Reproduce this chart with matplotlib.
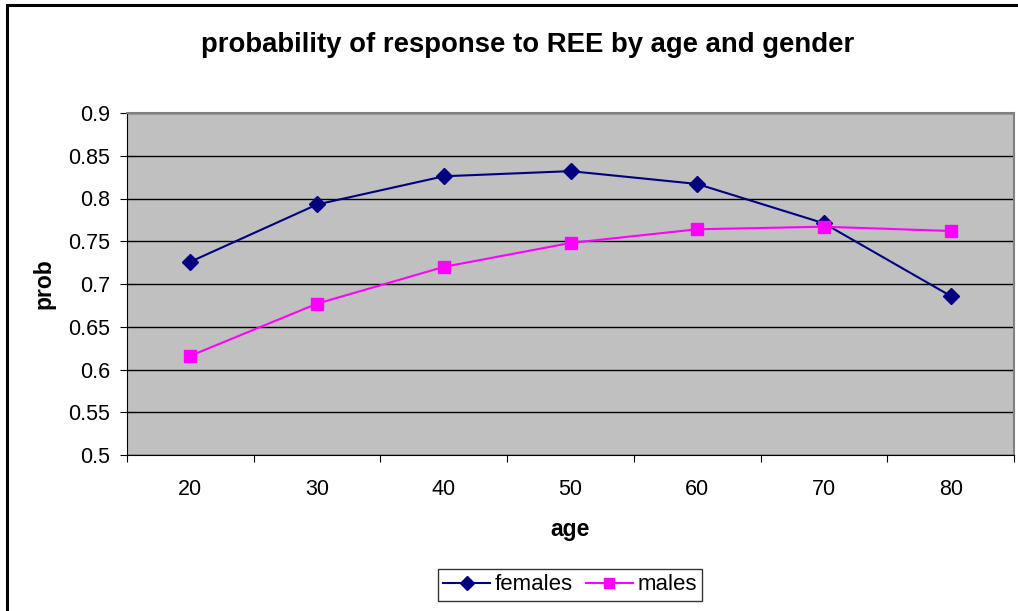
import matplotlib
matplotlib.use("Agg")
import matplotlib.pyplot as plt
from matplotlib.patches import Rectangle

plt.rcParams['font.family'] = ['Liberation Sans', 'DejaVu Sans']

ages = ["20", "30", "40", "50", "60", "70", "80"]
females = [0.726, 0.793, 0.826, 0.832, 0.817, 0.771, 0.686]
males = [0.616, 0.677, 0.720, 0.748, 0.764, 0.767, 0.762]

fig = plt.figure(figsize=(10.18, 6.11), dpi=100)
fig.patches.append(Rectangle((7 / 1018, -0.05), 1.2, 1 - 5 / 611 + 0.05, transform=fig.transFigure,
                             fill=False, edgecolor='black', linewidth=2.2, zorder=10))

ax = fig.add_axes([127 / 1018, 1 - 455 / 611, 887 / 1018, 342 / 611])
ax.set_facecolor('#C0C0C0')

x = list(range(len(ages)))
ax.plot(x, females, color='#000080', marker='D', markersize=8, linewidth=1.5, label='females', zorder=3)
ax.plot(x, males, color='#FF00FF', marker='s', markersize=8, linewidth=1.5, label='males', zorder=3)

ax.set_xlim(-0.5, len(ages) - 0.5)
ax.set_ylim(0.5, 0.9)
ax.set_yticks([0.5, 0.55, 0.6, 0.65, 0.7, 0.75, 0.8, 0.85, 0.9])
ax.set_yticklabels(['0.5', '0.55', '0.6', '0.65', '0.7', '0.75', '0.8', '0.85', '0.9'])
ax.yaxis.grid(True, color='black', linewidth=1)
ax.set_axisbelow(True)

ax.set_xticks([i - 0.5 for i in range(len(ages) + 1)])
ax.set_xticklabels([])
ax.set_xticks(x, minor=True)
ax.set_xticklabels(ages, minor=True)
ax.tick_params(axis='x', which='major', length=5, direction='out', color='black')
ax.tick_params(axis='x', which='minor', length=0, pad=17, labelsize=15.5)
ax.tick_params(axis='y', length=5, direction='out', labelsize=15.5, pad=7)

for s in ['top', 'right']:
    ax.spines[s].set_color('#808080')
    ax.spines[s].set_linewidth(1.5)
ax.spines['left'].set_color('black')
ax.spines['bottom'].set_color('black')

ax.set_xlabel('age', fontsize=16.5, fontweight='bold', labelpad=13)
ax.set_ylabel('prob', fontsize=16.5, fontweight='bold', labelpad=9)
fig.text(0.518, 1 - 45 / 611, 'probability of response to REE by age and gender',
         ha='center', va='center', fontsize=19.8, fontweight='bold')

leg = fig.legend(loc='center', bbox_to_anchor=(570 / 1018, 1 - 585 / 611), ncol=2, fontsize=16,
                 frameon=True, fancybox=False, edgecolor='black', handlelength=2.1,
                 columnspacing=0.6, handletextpad=0.2, borderpad=0.25, borderaxespad=0)
leg.get_frame().set_linewidth(1)
for h in leg.legend_handles:
    h.set_markersize(7)

fig.savefig('out.png', dpi=100)
